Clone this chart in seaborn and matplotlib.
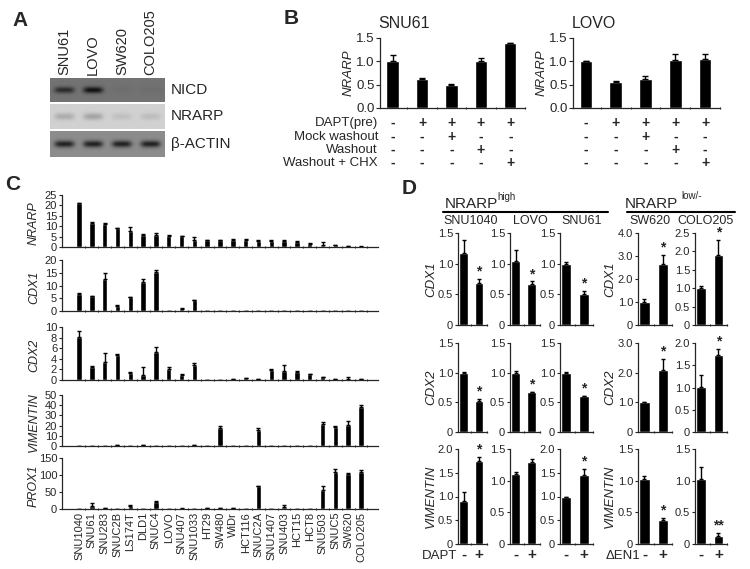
import numpy as np
import seaborn as sns
import matplotlib.pyplot as plt
from matplotlib import transforms
from matplotlib.lines import Line2D

# ---------------- data ----------------
# A: western blot (band darkness per lane)
blot_lanes = ['SNU61', 'LOVO', 'SW620', 'COLO205']
blot_rows = ['NICD', 'NRARP', 'β-ACTIN']
nicd_band = [0.28, 0.38, 0.02, 0.02]
nrarp_band = [0.15, 0.18, 0.07, 0.08]
actin_band = [0.42, 0.42, 0.42, 0.42]
blot_bg = [0.45, 0.82, 0.55]

# B: NRARP after DAPT washout
b_steps = ['1', '2', '3', '4', '5']
b_snu61 = [1.0, 0.63, 0.5, 1.0, 1.4]
b_snu61_err = [0.13, 0.02, 0.01, 0.07, 0.0]
b_lovo = [1.0, 0.55, 0.63, 1.02, 1.05]
b_lovo_err = [0.0, 0.03, 0.05, 0.14, 0.1]
b_rows = ['DAPT(pre)', 'Mock washout', 'Washout', 'Washout + CHX']
b_dapt = ['-', '+', '+', '+', '+']
b_mock = ['-', '-', '+', '-', '-']
b_wash = ['-', '-', '-', '+', '-']
b_chx = ['-', '-', '-', '-', '+']

# C: expression across cell lines
cells = ['SNU1040', 'SNU61', 'SNU283', 'SNUC2B', 'LS174T', 'DLD1', 'SNUC4', 'LOVO',
         'SNU407', 'SNU1033', 'HT29', 'SW480', 'WiDr', 'HCT116', 'SNUC2A', 'SNU1407',
         'SNU403', 'HCT15', 'HCT8', 'SNU503', 'SNUC5', 'SW620', 'COLO205']
c_nrarp = [21.0, 11.5, 11.2, 9.0, 7.5, 6.0, 5.7, 5.5, 5.2, 3.5, 3.3, 3.2, 3.3, 3.3,
           3.0, 3.0, 3.1, 2.6, 1.6, 1.2, 0.9, 0.3, 0.2]
c_nrarp_err = [0.2, 0.3, 0.3, 0.2, 2.0, 0.2, 1.0, 0.2, 0.2, 1.5, 0.2, 0.2, 0.4, 0.4,
               0.2, 0.2, 0.5, 0.2, 0.2, 1.2, 0.2, 0.1, 0.1]
c_cdx1 = [6.8, 5.8, 12.4, 2.1, 5.3, 11.5, 15.1, 0.1, 0.9, 4.2, 0.1, 0.1, 0.1, 0.1,
          0.1, 0.1, 0.1, 0.1, 0.1, 0.1, 0.1, 0.1, 0.1]
c_cdx1_err = [0.2, 0.2, 2.6, 0.3, 0.2, 1.0, 0.8, 0.0, 0.2, 0.2, 0.0, 0.0, 0.0, 0.0,
              0.0, 0.0, 0.0, 0.0, 0.0, 0.0, 0.0, 0.0, 0.0]
c_cdx2 = [8.1, 2.5, 3.4, 4.7, 1.4, 0.9, 5.3, 2.0, 1.0, 2.9, 0.05, 0.05, 0.1, 0.3,
          0.1, 1.9, 1.75, 1.6, 1.1, 0.5, 0.1, 0.2, 0.1]
c_cdx2_err = [1.1, 0.2, 1.7, 0.3, 0.2, 1.6, 0.9, 0.5, 0.1, 0.3, 0.0, 0.0, 0.0, 0.05,
              0.0, 0.1, 1.0, 0.1, 0.1, 0.1, 0.0, 0.4, 0.0]
c_vim = [0.3, 0.3, 0.3, 0.6, 0.2, 1.0, 0.3, 0.2, 0.2, 0.6, 0.2, 17.5, 0.2, 0.2,
         16.0, 0.2, 0.2, 0.2, 0.2, 21.5, 18.5, 21.0, 38.0]
c_vim_err = [0.0, 0.0, 0.0, 0.0, 0.0, 0.2, 0.0, 0.0, 0.0, 0.0, 0.0, 2.5, 0.0, 0.0,
             2.0, 0.0, 0.0, 0.0, 0.0, 2.5, 1.5, 4.0, 2.5]
c_prox1 = [1.0, 8.0, 2.5, 0.5, 9.5, 1.0, 22.0, 0.5, 1.0, 0.5, 3.0, 3.0, 2.0, 0.5,
           67.0, 0.3, 5.0, 0.3, 0.3, 55.0, 108.0, 104.0, 110.0]
c_prox1_err = [0.0, 9.0, 0.0, 0.0, 1.0, 0.0, 2.0, 0.0, 0.5, 0.0, 0.5, 0.5, 0.5, 0.0,
               1.0, 0.0, 6.0, 0.0, 0.0, 13.0, 10.0, 1.0, 4.0]
c_genes = ['NRARP', 'CDX1', 'CDX2', 'VIMENTIN', 'PROX1']
c_ymax = [25, 20, 10, 50, 150]
c_ystep = [5, 5, 2, 10, 50]

# D: DAPT / dominant-negative EN1 treatment
d_cells = ['SNU1040', 'LOVO', 'SNU61', 'SW620', 'COLO205']
d_genes = ['CDX1', 'CDX2', 'VIMENTIN']
d_treat = ['-', '+']
d_cdx1 = [[1.18, 0.68], [1.05, 0.67], [1.0, 0.5], [1.0, 2.65], [1.0, 1.9]]
d_cdx1_err = [[0.2, 0.07], [0.17, 0.04], [0.02, 0.05], [0.15, 0.4], [0.05, 0.4]]
d_cdx2 = [[1.0, 0.53], [1.0, 0.67], [1.0, 0.6], [1.0, 2.1], [1.02, 1.72]]
d_cdx2_err = [[0.01, 0.03], [0.02, 0.01], [0.01, 0.0], [0.0, 0.35], [0.25, 0.15]]
d_vim = [[0.9, 1.75], [1.1, 1.3], [1.0, 1.45], [1.02, 0.38], [1.02, 0.13]]
d_vim_err = [[0.2, 0.08], [0.04, 0.05], [0.0, 0.13], [0.05, 0.03], [0.2, 0.05]]
d_ymax = [[1.5, 1.5, 1.5, 4.0, 2.5], [1.5, 1.5, 1.5, 3.0, 2.0], [2.0, 1.5, 2.0, 1.5, 1.5]]
d_sig = [['*', '*', '*', '*', '*'], ['*', '*', '*', '*', '*'], ['*', '', '*', '*', '**']]

# ---------------- style / layout helpers ----------------
sns.set_style('ticks')
plt.rcParams['font.family'] = ['Liberation Sans', 'DejaVu Sans']
plt.rcParams['axes.linewidth'] = 0.9

W, H = 750, 569
fig = plt.figure(figsize=(W / 100, H / 100), dpi=100)


def add_ax(x0, y0, x1, y1):
    return fig.add_axes([x0 / W, 1 - y1 / H, (x1 - x0) / W, (y1 - y0) / H])


def ftext(x, y, s, **kw):
    fig.text(x / W, 1 - y / H, s, **kw)


def bars(ax, labels, vals, errs, width, cap):
    sns.barplot(x=labels, y=vals, color='black', saturation=1, width=width,
                errorbar=None, ax=ax)
    n = len(vals)
    ax.errorbar(range(n), vals, yerr=[np.zeros(n), errs], fmt='none', ecolor='black',
                elinewidth=1, capsize=cap, capthick=1)
    ax.set_xlabel('')
    ax.set_ylabel('')
    ax.set_xticks(np.arange(n) + 0.5, minor=True)
    ax.tick_params(axis='x', which='major', length=0)
    ax.tick_params(axis='x', which='minor', length=2, width=0.8, direction='inout')
    sns.despine(ax=ax)


# ---------------- A ----------------
ftext(20, 20, 'A', fontsize=15, fontweight='bold', ha='center', va='center')
blot_boxes = [(50, 78, 165, 102), (50, 104, 165, 129), (50, 131, 165, 157)]
for k, (bands, bg, name, box) in enumerate(zip([nicd_band, nrarp_band, actin_band],
                                                blot_bg, blot_rows, blot_boxes)):
    ax = add_ax(*box)
    yy = np.arange(24)
    xx = np.arange(29)
    prof_y = np.exp(-((yy - 11.5) / 3.2) ** 2)
    prof_x = np.exp(-((xx - 14) / 10.0) ** 4)
    img = np.concatenate([bg - d * np.outer(prof_y, prof_x) for d in bands], axis=1)
    ax.imshow(img, cmap='gray', vmin=0, vmax=1, aspect='auto',
              extent=(-0.5, len(bands) - 0.5, 24, 0))
    ax.set_yticks([])
    for s in ax.spines.values():
        s.set_visible(False)
    if k == 0:
        ax.xaxis.tick_top()
        ax.set_xticks(range(len(blot_lanes)), blot_lanes, rotation=90, fontsize=10.5)
        ax.tick_params(axis='x', length=0, pad=2)
    else:
        ax.set_xticks([])
    ax.text(1.05, 0.5, name, transform=ax.transAxes, fontsize=11, va='center', ha='left')

# ---------------- B ----------------
ftext(291, 18, 'B', fontsize=15, fontweight='bold', ha='center', va='center')
b_table = [b_dapt, b_mock, b_wash, b_chx]
b_row_y = [123, 137, 150, 163]
for ax_box, vals, errs, title, ylx in [((380, 38, 525, 108), b_snu61, b_snu61_err, 'SNU61', 349),
                                       ((573, 38, 720, 108), b_lovo, b_lovo_err, 'LOVO', 542)]:
    ax = add_ax(*ax_box)
    bars(ax, b_steps, vals, errs, 0.42, 2)
    ax.set_ylim(0, 1.5)
    ax.set_yticks([0, 0.5, 1.0, 1.5], ['0.0', '0.5', '1.0', '1.5'])
    ax.set_xticklabels([])
    ax.tick_params(axis='y', length=3, width=0.8, pad=1, labelsize=9.5)
    ax.text(-0.01, 1.1, title, transform=ax.transAxes, fontsize=11.5, ha='left', va='bottom')
    ftext(ylx, 73, 'NRARP', rotation=90, style='italic', fontsize=9.5, ha='center', va='center')
    trans = transforms.blended_transform_factory(ax.transData, fig.transFigure)
    for row, yrow in zip(b_table, b_row_y):
        for j, sym in enumerate(row):
            ax.text(j, 1 - yrow / H, sym, transform=trans, ha='center', va='center',
                    fontsize=10, fontweight='bold')
for name, yrow in zip(b_rows, b_row_y):
    ftext(378, yrow, name, fontsize=9.5, ha='right', va='center')

# ---------------- C ----------------
ftext(13, 185, 'C', fontsize=15, fontweight='bold', ha='center', va='center')
c_vals = [c_nrarp, c_cdx1, c_cdx2, c_vim, c_prox1]
c_errs = [c_nrarp_err, c_cdx1_err, c_cdx2_err, c_vim_err, c_prox1_err]
c_rows = [(195, 247), (260, 311), (327, 380), (395, 446), (458, 509)]
for k, (gene, vals, errs, (y0, y1), ymax, step) in enumerate(
        zip(c_genes, c_vals, c_errs, c_rows, c_ymax, c_ystep)):
    ax = add_ax(62, y0, 378, y1)
    bars(ax, cells, vals, errs, 0.42, 1.5)
    ax.set_ylim(0, ymax)
    ax.set_yticks(np.arange(0, ymax + step / 2, step))
    ax.tick_params(axis='y', length=2.5, width=0.8, pad=1, labelsize=8)
    if k == len(c_genes) - 1:
        ax.set_xticks(range(len(cells)), cells, rotation=90, fontsize=8)
        ax.tick_params(axis='x', which='major', pad=2)
    else:
        ax.set_xticklabels([])
    ftext(34, (y0 + y1) / 2 + 2, gene, rotation=90, style='italic', fontsize=9,
          ha='center', va='center')

# ---------------- D ----------------
ftext(409, 188, 'D', fontsize=15, fontweight='bold', ha='center', va='center')
ftext(445, 204, 'NRARP', fontsize=11, ha='left', va='center')
ftext(497, 197, 'high', fontsize=7, ha='left', va='center')
ftext(625, 204, 'NRARP', fontsize=11, ha='left', va='center')
ftext(681, 196, 'low/-', fontsize=7, ha='left', va='center')
fig.add_artist(Line2D([443 / W, 608 / W], [1 - 212 / H, 1 - 212 / H], color='black', lw=1.5))
fig.add_artist(Line2D([627 / W, 735 / W], [1 - 212 / H, 1 - 212 / H], color='black', lw=1.5))
for name, xc in zip(d_cells, [471, 530, 582, 650, 706]):
    ftext(xc, 221, name, fontsize=9, ha='center', va='center')

d_vals = [d_cdx1, d_cdx2, d_vim]
d_errs = [d_cdx1_err, d_cdx2_err, d_vim_err]
d_cols = [(458, 487), (510, 540), (560, 593), (638, 672), (695, 727)]
d_rows = [(233, 325), (343, 432), (449, 544)]
for r, gene in enumerate(d_genes):
    y0, y1 = d_rows[r]
    for c, (x0, x1) in enumerate(d_cols):
        ax = add_ax(x0, y0, x1, y1)
        vals, errs, ymax = d_vals[r][c], d_errs[r][c], d_ymax[r][c]
        bars(ax, d_treat, vals, errs, 0.55, 1.5)
        ax.set_ylim(0, ymax)
        step = 1.0 if ymax >= 3 else 0.5
        ticks = np.arange(0, ymax + step / 2, step)
        ax.set_yticks(ticks, ['0' if t == 0 else f'{t:.1f}' for t in ticks])
        ax.tick_params(axis='y', length=2.5, width=0.8, pad=1, labelsize=8)
        if d_sig[r][c]:
            ax.text(1, vals[1] + errs[1] + ymax * 0.005, d_sig[r][c], ha='center',
                    va='bottom', fontsize=10, fontweight='bold', clip_on=False)
        if r == len(d_genes) - 1:
            ax.set_xticks(range(2), d_treat, fontsize=11, fontweight='bold')
            ax.tick_params(axis='x', which='major', pad=3)
        else:
            ax.set_xticklabels([])
    for xc in (431, 610):
        ftext(xc, (y0 + y1) / 2, gene, rotation=90, style='italic', fontsize=9.5,
              ha='center', va='center')
ftext(457, 556, 'DAPT', fontsize=9.5, ha='right', va='center')
ftext(640, 556, 'ΔEN1', fontsize=9.5, ha='right', va='center')

fig.savefig('out.png', dpi=100)
